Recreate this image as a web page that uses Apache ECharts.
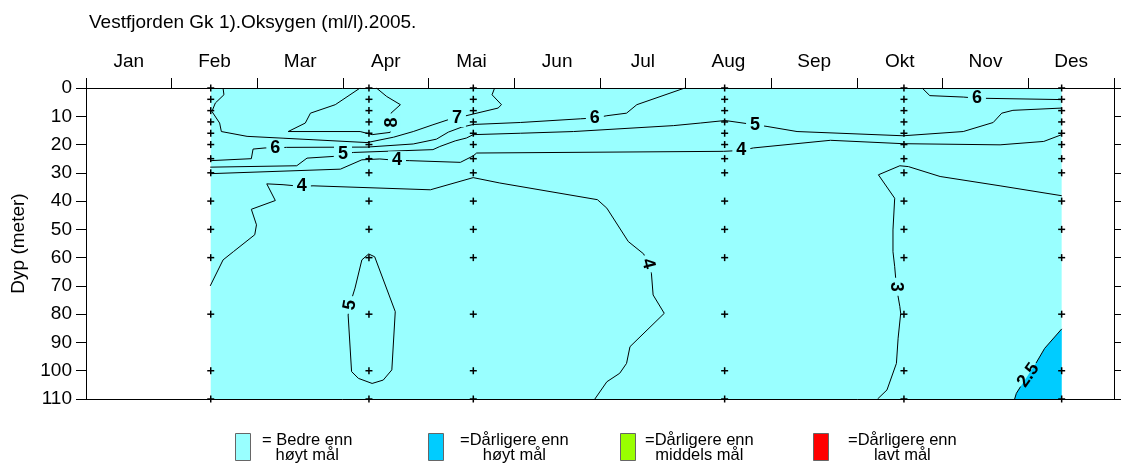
<!DOCTYPE html>
<html>
<head>
<meta charset="utf-8">
<title>Vestfjorden Gk 1 - Oksygen 2005</title>
<script src="https://cdn.jsdelivr.net/npm/echarts@6/dist/echarts.min.js"></script>
<style>
  html, body { margin: 0; padding: 0; background: #fff; }
  #chart { width: 1122px; height: 472px; }
</style>
</head>
<body>
<div id="chart"></div>
<script>
// --- data ---------------------------------------------------------------
// x = months since 1 Jan (0..12), y = depth in metres
const months = ['Jan', 'Feb', 'Mar', 'Apr', 'Mai', 'Jun', 'Jul', 'Aug', 'Sep', 'Okt', 'Nov', 'Des'];

// sampling dates (tokt) and sampling depths, drawn as "+"
const sampleMonths = [1.456, 3.303, 4.521, 7.455, 9.548, 11.389];
const sampleDepths = [0, 4, 8, 12, 16, 20, 25, 30, 40, 50, 60, 80, 100, 110];

// isolines (oksygen ml/l) as [month, depth]
const iso8 = [[3.20, 0], [2.91, 5.9], [2.62, 8.9], [2.56, 12.4], [2.36, 15.4], [3.20, 15.4], [3.34, 16.5],
  [3.55, 15.7], [3.57, 12.2], [3.56, 8.9], [3.67, 5.9], [3.51, 3.0], [3.39, 0]];
const iso7 = [[1.60, 0], [1.61, 2.4], [1.51, 5.3], [1.47, 8.3], [1.56, 12.4], [1.58, 15.4], [1.88, 17.1],
  [2.65, 18.3], [3.28, 19.3], [3.59, 17.4], [3.82, 15.4], [4.05, 13.0], [4.25, 11.0], [4.33, 10.6],
  [4.52, 9.2], [4.81, 7.1], [4.85, 5.9], [4.74, 2.4], [4.77, 0]];
const iso6a = [[1.45, 25.7], [1.93, 25.0], [1.95, 21.6], [2.09, 21.2], [2.21, 21.2], [2.34, 21.0], [3.28, 20.9],
  [3.82, 19.8], [4.09, 18.1], [4.23, 15.6], [4.38, 13.9], [4.52, 12.9], [5.07, 12.2], [5.77, 10.9],
  [5.94, 10.6], [6.08, 9.8], [6.31, 8.9], [6.43, 5.9], [6.99, 0]];
const iso6b = [[9.76, 0], [9.85, 2.7], [10.24, 3.2], [10.40, 3.6], [11.39, 4.1]];
const iso5a = [[1.45, 28.0], [2.46, 27.5], [2.58, 24.8], [2.89, 24.2], [3.00, 23.3], [3.12, 22.8], [4.05, 21.8],
  [4.13, 20.7], [4.31, 18.7], [4.44, 17.7], [4.52, 16.5], [5.07, 16.0], [5.69, 15.4], [6.86, 13.3],
  [7.17, 12.4], [7.46, 11.5], [7.81, 13.0], [7.95, 13.6], [8.30, 15.4], [9.54, 16.9], [10.24, 15.4],
  [10.59, 12.2], [10.69, 8.9], [10.82, 7.9], [11.39, 7.1]];
const iso5b = [[3.30, 58.7], [3.37, 59.7], [3.61, 79.1], [3.57, 99.7], [3.47, 103.3], [3.34, 104.5],
  [3.18, 102.7], [3.10, 100.3], [3.06, 80.3], [3.08, 76.7], [3.14, 70.8], [3.22, 60.8], [3.30, 58.7]];
const iso4a = [[1.45, 30.3], [2.97, 28.7], [3.22, 25.4], [3.43, 25.1], [3.63, 25.6], [3.78, 25.7], [4.37, 26.3],
  [4.52, 24.0], [4.56, 23.0], [7.44, 22.4], [7.65, 22.1], [7.79, 21.2], [8.69, 18.5], [9.54, 19.7],
  [10.67, 20.1], [11.18, 18.9], [11.39, 16.5]];
const iso4b = [[1.45, 70.0], [1.60, 60.8], [1.72, 57.9], [1.97, 51.9], [1.99, 48.4], [1.93, 42.9], [2.21, 39.8],
  [2.11, 33.9], [2.30, 34.2], [2.52, 34.8], [2.65, 34.6], [4.02, 36.0], [4.52, 31.7], [4.83, 33.6],
  [5.97, 39.5], [6.08, 42.5], [6.33, 54.3], [6.51, 58.7], [6.56, 62.2], [6.60, 65.5], [6.62, 73.2],
  [6.75, 79.7], [6.35, 91.5], [6.31, 97.4], [6.23, 100.9], [6.08, 103.9], [5.94, 110]];
const iso3 = [[11.39, 38.1], [10.67, 34.6], [9.97, 31.3], [9.60, 27.8], [9.50, 27.5], [9.25, 30.7], [9.44, 39.0],
  [9.46, 39.6], [9.42, 50.2], [9.42, 57.9], [9.44, 63.2], [9.46, 70.3], [9.50, 77.3], [9.51, 79.7],
  [9.48, 88.5], [9.46, 97.4], [9.35, 106.8], [9.24, 110]];
const iso25 = [[11.39, 85.2], [11.19, 92.1], [11.09, 97.3], '-', [10.91, 105.6], [10.86, 108.0], [10.84, 110]];

// isoline labels
const labelText = ['8', '7', '6', '5', '4', '4', '6', '5', '4', '6', '4', '5', '3', '2.5'];
const labelPos = [[3.57, 12.2], [4.33, 10.6], [2.21, 21.2], [3.00, 23.3], [3.63, 25.6], [2.52, 34.8],
  [5.94, 10.6], [7.81, 13.0], [7.65, 22.1], [10.40, 3.6], [6.56, 62.2], [3.08, 76.7], [9.46, 70.3], [11.00, 101.6]];

// legend
const legendLabels = ['= Bedre enn\nhøyt mål', '=Dårligere enn\nhøyt mål', '=Dårligere enn\nmiddels mål', '=Dårligere enn\nlavt mål'];
const legendColors = ['#99ffff', '#00ccff', '#99ff00', '#ff0000'];

// --- styling ----------------------------------------------------------------
const FONT = '"Liberation Sans", Arial, Helvetica, sans-serif';
const labelTilt = [90, 0, 0, 0, 0, 0, 0, 0, 0, 0, -75, 80, -90, 55];
const legendBoxX = [235, 428, 620, 813];
const legendTextX = [262, 460, 645, 848];
const legendFont = '16.5px ' + FONT;

const chart = echarts.init(document.getElementById('chart'));

// filled areas
const cyanArea = [[sampleMonths[0], 0], [sampleMonths[5], 0], [sampleMonths[5], 110], [sampleMonths[0], 110]];
const blueArea = iso25.filter(p => Array.isArray(p)).concat([[sampleMonths[5], 110]]);

function areaSeries(points, color) {
  return {
    type: 'custom', xAxisIndex: 1, yAxisIndex: 0, z: 1, silent: true,
    data: [[0, 0]],
    renderItem: function (params, api) {
      return {
        type: 'polygon',
        shape: { points: points.map(p => api.coord(p)) },
        style: { fill: color }
      };
    }
  };
}

const lineSeries = [iso8, iso7, iso6a, iso6b, iso5a, iso5b, iso4a, iso4b, iso3, iso25].map(d => ({
  type: 'line', xAxisIndex: 1, yAxisIndex: 0, z: 2, silent: true,
  data: d, symbol: 'none', connectNulls: false,
  lineStyle: { color: '#000', width: 1 }
}));

const crossPoints = [];
sampleMonths.forEach(m => sampleDepths.forEach(d => crossPoints.push([m, d])));

// legend: box + two-line text, second line centred under the first
const measure = document.createElement('canvas').getContext('2d');
measure.font = legendFont;
const legendGraphics = [];
legendLabels.forEach((txt, i) => {
  const w = measure.measureText(txt.split('\n')[0]).width;
  legendGraphics.push({
    type: 'rect', left: legendBoxX[i], top: 433,
    shape: { width: 15, height: 27 },
    style: { fill: legendColors[i], stroke: '#666', lineWidth: 1 }
  });
  legendGraphics.push({
    type: 'text', x: legendTextX[i] + w / 2, y: 433,
    style: { text: txt, font: legendFont, fill: '#000', align: 'center', verticalAlign: 'top', lineHeight: 15 }
  });
});

const option = {
  animation: false,
  backgroundColor: '#fff',
  title: {
    text: 'Vestfjorden Gk 1).Oksygen (ml/l).2005.',
    left: 84, top: 8,
    textStyle: { fontFamily: FONT, fontSize: 19, fontWeight: 'normal', color: '#000' }
  },
  grid: { left: 86, right: 8, top: 88, bottom: 73, containLabel: false, outerBoundsMode: 'none' },
  xAxis: [
    {
      type: 'category', data: months, position: 'top', boundaryGap: true, z: 10,
      axisLine: { show: true, lineStyle: { color: '#000', width: 1 } },
      axisTick: { show: true, length: 10, lineStyle: { color: '#000' } },
      axisLabel: { fontFamily: FONT, fontSize: 19, color: '#000', margin: 17, interval: 0 },
      splitLine: { show: false }
    },
    {
      type: 'value', min: 0, max: 12, position: 'bottom', z: 10,
      axisLine: { show: true, onZero: false, lineStyle: { color: '#000', width: 1 } },
      axisTick: { show: false }, axisLabel: { show: false }, splitLine: { show: false }
    }
  ],
  yAxis: [
    {
      type: 'value', inverse: true, min: 0, max: 110, interval: 10, position: 'left', z: 10,
      name: 'Dyp (meter)', nameLocation: 'middle', nameRotate: 90, nameGap: 58,
      nameTextStyle: { fontFamily: FONT, fontSize: 19, color: '#000' },
      axisLine: { show: true, onZero: false, lineStyle: { color: '#000', width: 1 } },
      axisTick: { show: true, length: 10, lineStyle: { color: '#000' } },
      axisLabel: { fontFamily: FONT, fontSize: 19, color: '#000', margin: 14 },
      splitLine: { show: false }
    },
    {
      type: 'value', inverse: true, min: 0, max: 110, interval: 10, position: 'right', z: 10,
      axisLine: { show: true, onZero: false, lineStyle: { color: '#000', width: 1 } },
      axisTick: { show: true, length: 7, lineStyle: { color: '#000' } },
      axisLabel: { show: false }, splitLine: { show: false }
    }
  ],
  graphic: legendGraphics,
  series: [
    areaSeries(cyanArea, '#99ffff'),
    areaSeries(blueArea, '#00ccff')
  ].concat(lineSeries).concat([
    {
      type: 'custom', xAxisIndex: 1, yAxisIndex: 0, z: 3, silent: true,
      data: labelPos.map((p, i) => [p[0], p[1], i]),
      renderItem: function (params, api) {
        const i = api.value(2);
        const pt = api.coord([api.value(0), api.value(1)]);
        return {
          type: 'text', x: pt[0], y: pt[1], rotation: labelTilt[i] * Math.PI / 180,
          style: {
            text: labelText[i], font: 'bold 18px ' + FONT, fill: '#000',
            align: 'center', verticalAlign: 'middle',
            backgroundColor: labelText[i] === '2.5' ? null : '#99ffff', padding: [0, 4]
          }
        };
      }
    },
    {
      type: 'custom', xAxisIndex: 1, yAxisIndex: 0, z: 4, silent: true, clip: false,
      data: crossPoints,
      renderItem: function (params, api) {
        const p = api.coord([api.value(0), api.value(1)]);
        const h = 3.5;
        return {
          type: 'group',
          children: [
            { type: 'line', shape: { x1: p[0] - h, y1: p[1], x2: p[0] + h, y2: p[1] }, style: { stroke: '#000', lineWidth: 1.5 } },
            { type: 'line', shape: { x1: p[0], y1: p[1] - h, x2: p[0], y2: p[1] + h }, style: { stroke: '#000', lineWidth: 1.5 } }
          ]
        };
      }
    }
  ])
};

chart.setOption(option);
</script>
</body>
</html>
